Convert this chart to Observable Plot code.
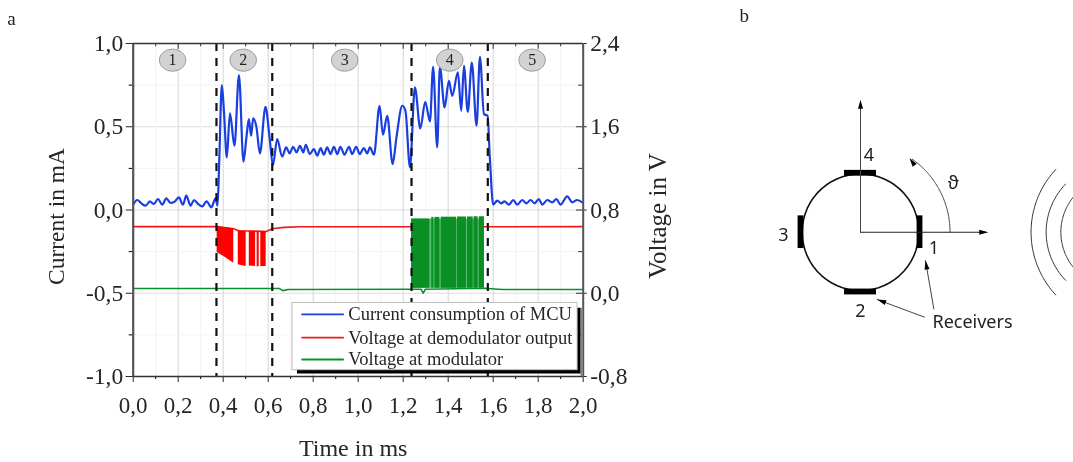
<!DOCTYPE html>
<html>
<head>
<meta charset="utf-8">
<script src="https://cdn.jsdelivr.net/npm/d3@7"></script>
<script src="https://cdn.jsdelivr.net/npm/@observablehq/plot@0.6"></script>
<style>
html,body{margin:0;padding:0;background:#fff;}
#fig{display:flex;width:1073px;height:462px;overflow:hidden;}
svg{display:block;filter:blur(0.35px);}
</style>
</head>
<body>
<div id="fig"></div>
<script>
// ---- Panel a data ----
const currentT = [0,.018,.036,.055,.074,.092,.110,.129,.147,.166,.184,.203,.221,.236,.255,.270,.289,.307,.326,.347,.366,.375,.382,.394,.404,.416,.430,.450,.470,.490,.504,.514,.524,.533,.548,.563,.588,.606,.621,.640,.662,.680,.695,.711,.726,.741,.756,.767,.785,.803,.818,.833,.847,.862,.877,.892,.907,.921,.939,.959,.973,.991,1.007,1.025,1.040,1.052,1.070,1.095,1.110,1.129,1.153,1.170,1.196,1.210,1.230,1.252,1.276,1.298,1.319,1.333,1.351,1.363,1.384,1.403,1.418,1.443,1.458,1.470,1.487,1.505,1.526,1.541,1.559,1.575,1.585,1.600,1.618,1.636,1.650,1.670,1.689,1.707,1.729,1.748,1.766,1.784,1.803,1.818,1.840,1.862,1.881,1.899,1.929,1.951,1.973,1.996];
const currentMA = [.032,.060,.040,.026,.052,.036,.066,.032,.070,.042,.050,.076,.032,.086,.026,.060,.036,.022,.052,.016,.070,.026,.276,.750,.576,.316,.580,.386,.810,.290,.446,.546,.446,.550,.496,.340,.620,.436,.270,.426,.320,.376,.340,.380,.346,.386,.346,.392,.336,.366,.326,.372,.332,.376,.336,.380,.336,.380,.332,.380,.336,.380,.336,.372,.340,.376,.332,.626,.452,.566,.276,.436,.626,.596,.256,.736,.490,.650,.532,.860,.376,.860,.616,.776,.686,.826,.596,.866,.590,.886,.506,.920,.576,.566,.316,.032,.056,.040,.052,.032,.060,.032,.060,.040,.060,.040,.066,.032,.060,.046,.066,.032,.082,.046,.060,.046];

const redLineT = [0,.373,.447,.467,.591,.618,.670,.743,2];
const redLineV = [.64,.64,.62,.60,.594,.62,.633,.639,.64];
const redBlock  = ["a","a","a","b","b","c","c","d","d","e","e"];
const redBlockT = [.373,.410,.447,.467,.502,.516,.544,.551,.560,.567,.591];
const redBlockTop = [.639,.630,.620,.600,.597,.597,.597,.597,.597,.597,.594];
const redBlockBottom = [.392,.343,.289,.273,.257,.263,.257,.253,.257,.257,.257];

const greenLineT = [0,.650,.665,.690,1.237,1.280,1.289,1.298,1.561,1.640,2];
const greenLineV = [.045,.045,.025,.036,.038,.038,.0,.038,.048,.036,.036];
const greenStart = [1.237,1.327,1.341,1.369,1.441,1.486,1.515,1.538];
const greenEnd   = [1.318,1.336,1.363,1.437,1.481,1.511,1.533,1.561];
const greenTop   = [.713,.729,.729,.731,.733,.733,.735,.735];
const greenBottom = .048;

const phaseBoundaries = [.370,.618,1.237,1.576];
const phaseT = [.175,.489,.94,1.407,1.773];
const phaseLabels = ["1","2","3","4","5"];
const phaseY = .90;

const xMajor = [0,.2,.4,.6,.8,1,1.2,1.4,1.6,1.8,2];
const xMinor = [.1,.3,.5,.7,.9,1.1,1.3,1.5,1.7,1.9];
const yMajor = [-1,-.5,0,.5,1];
const yMinor = [-.75,-.25,.25,.75];

const legendLabels = ["Current consumption of MCU","Voltage at demodulator output","Voltage at modulator"];
const legendColors = ["#1a3fe0","#f01818","#0a8f30"];
const legendY = [-.627,-.767,-.898];

// ---- Panel b schematic (unit = circle radius) ----
const receivers = [
  {x1:-.274,x2:.274,y1:.96,y2:1.06},
  {x1:-.274,x2:.274,y1:-1.075,y2:-.975},
  {x1:-1.07,x2:-.97,y1:-.28,y2:.28},
  {x1:.97,x2:1.07,y1:-.28,y2:.28}
];
const wavesCx = [4.50,4.37,4.39];
const wavesR = [1.576,1.187,.955];
const wavesHalf = [43,44,39];
const pointerFrom = [[1.257,-1.314],[1.097,-1.457]];
const pointerTo = [[1.114,-.486],[.286,-1.154]];
const schematicLabels = [
  {x:.145,y:1.32,t:"4"},{x:-1.32,y:-.05,t:"3"},{x:1.26,y:-.27,t:"1"},{x:0,y:-1.36,t:"2"},
  {x:1.59,y:.84,t:"ϑ"},{x:1.92,y:-1.55,t:"Receivers"}
];
const angleArcR = 1.535, angleArcEnd = 56.6;

// ---- helpers ----
const comma = v => d3.format(".1f")(v).replace(".", ",").replace("−", "-");
const toCurrent = v => (v - .8) / 1.6;
const toVolt = c => .8 + 1.6 * c;
const serif = "Liberation Serif";
const sans = "Noto Sans";
const zip = (xs, ys) => xs.map((x, i) => ({x, y: ys[i]}));
const arc = (cx, r, a0, a1) => d3.range(0, 61).map(i => {
  const a = (a0 + (a1 - a0) * i / 60) * Math.PI / 180;
  return {x: cx + r * Math.cos(a), y: r * Math.sin(a)};
});
const ellipse = {draw(c, size){
  const r = Math.sqrt(size / Math.PI), a = r * 1.2, b = r, k = .5523;
  c.moveTo(-a,0);
  c.bezierCurveTo(-a,-k*b,-k*a,-b,0,-b);
  c.bezierCurveTo(k*a,-b,a,-k*b,a,0);
  c.bezierCurveTo(a,k*b,k*a,b,0,b);
  c.bezierCurveTo(-k*a,b,-a,k*b,-a,0);
  c.closePath();
}};
const head = {draw(c){
  c.moveTo(0,0); c.lineTo(2.5,9); c.lineTo(-2.5,9); c.closePath();
}};

const redBlocks = redBlockT.map((t,i)=>({b:redBlock[i],t,top:toCurrent(redBlockTop[i]),bot:toCurrent(redBlockBottom[i])}));
const greenBlocks = greenStart.map((s,i)=>({s,e:greenEnd[i],top:toCurrent(greenTop[i]),bot:toCurrent(greenBottom)}));
const textColor = "#262626";

const plotA = Plot.plot({
  width: 740, height: 462,
  marginLeft: 132.7, marginRight: 157.3, marginTop: 43, marginBottom: 86,
  x: {domain: [0,2]},
  y: {domain: [-1,1]},
  style: {background:"#fff"},
  marks: [
    Plot.ruleX(xMajor, {stroke:"#dcdcdc", strokeWidth:1.2}),
    Plot.ruleY(yMajor, {stroke:"#dcdcdc", strokeWidth:1.2}),
    Plot.ruleX(xMinor, {stroke:"#f3f3f3"}),
    Plot.ruleY(yMinor, {stroke:"#f3f3f3"}),

    Plot.axisX({ticks:xMajor, tickFormat:comma, tickSize:6, tickPadding:14, fontSize:23, fontFamily:serif, color:textColor, label:null}),
    Plot.axisX({ticks:xMinor, tickFormat:()=>"", tickSize:3, label:null}),
    Plot.axisY({ticks:yMajor, tickFormat:comma, tickSize:7, tickPadding:3, fontSize:23.5, fontFamily:serif, color:textColor, label:null}),
    Plot.axisY({ticks:yMinor, tickFormat:()=>"", tickSize:4, label:null}),
    Plot.axisY({ticks:yMajor, anchor:"right", tickFormat:c=>comma(toVolt(c)), tickSize:3, tickPadding:4, fontSize:23.5, fontFamily:serif, color:textColor, label:null}),
    Plot.text(["Time in ms"], {frameAnchor:"bottom", dx:-5, dy:79, text:d=>d, fontFamily:serif, fontSize:24, fill:textColor}),
    Plot.text(["Current in mA"], {frameAnchor:"left", textAnchor:"middle", dx:-76.7, dy:6.5, rotate:-90, text:d=>d, fontFamily:serif, fontSize:23.5, fill:textColor}),
    Plot.text(["Voltage in V"], {frameAnchor:"right", textAnchor:"middle", dx:75, dy:6, rotate:-90, text:d=>d, fontFamily:serif, fontSize:25, fill:textColor}),
    Plot.ruleX(xMajor, {y1:1, y2:.965, stroke:"#333"}),
    Plot.ruleX(xMinor, {y1:1, y2:.98, stroke:"#333"}),
    Plot.ruleY(yMajor, {x1:2, x2:1.97, stroke:"#333"}),
    Plot.ruleY(yMinor, {x1:2, x2:1.98, stroke:"#333"}),

    Plot.line(zip(redLineT, redLineV), {x:"x", y:d=>toCurrent(d.y), stroke:legendColors[1], strokeWidth:1.6}),
    Plot.area(redBlocks, {x1:"t", y1:"top", y2:"bot", z:"b", fill:"#ff0000"}),
    Plot.line(zip(greenLineT, greenLineV), {x:"x", y:d=>toCurrent(d.y), stroke:legendColors[2], strokeWidth:1.6}),
    Plot.rect([{s:greenStart[0],e:greenEnd[7],top:greenBlocks[0].top,bot:greenBlocks[0].bot}], {x1:"s", x2:"e", y1:"top", y2:"bot", fill:"#5bb974"}),
    Plot.rect(greenBlocks, {x1:"s", x2:"e", y1:"top", y2:"bot", fill:"#0a8f22"}),

    Plot.line(zip(currentT, currentMA), {x:"x", y:"y", stroke:legendColors[0], strokeWidth:2.2, curve:"monotone-x"}),

    Plot.ruleX(phaseBoundaries, {stroke:"#111", strokeWidth:2.2, strokeDasharray:"8,7"}),

    Plot.ruleX([0], {stroke:"#555", strokeWidth:2.2}),
    Plot.ruleY([-1], {stroke:"#333", strokeWidth:1.6}),
    Plot.ruleY([1], {stroke:"#333", strokeWidth:1.6}),
    Plot.ruleX([2], {stroke:"#555", strokeWidth:2}),

    Plot.dot(phaseT, {x:d=>d, y:()=>phaseY, symbol:ellipse, r:11, fill:"#d2d2d2", stroke:"#9a9a9a", strokeWidth:1}),
    Plot.text(phaseLabels, {x:(d,i)=>phaseT[i], y:()=>phaseY, text:d=>d, fontFamily:serif, fontSize:16, fill:"#222"}),

    Plot.rect([0], {x1:1.99, x2:2, y1:-.59, y2:-1, fill:"#888"}),
    Plot.rect([0], {x1:.73, x2:1.99, y1:-.59, y2:-.985, fill:"#000"}),
    Plot.rect([0], {x1:.708, x2:1.975, y1:-.558, y2:-.962, fill:"#fff", stroke:"#bdbdbd", strokeWidth:1}),
    ...legendLabels.map((label,i)=>Plot.line([{x:.751,y:legendY[i]},{x:.933,y:legendY[i]}], {x:"x", y:"y", stroke:legendColors[i], strokeWidth:1.8})),
    Plot.text(legendLabels, {x:()=>.956, y:(d,i)=>legendY[i], text:d=>d, textAnchor:"start", fontFamily:serif, fontSize:18.5, fill:textColor}),

    Plot.text(["a"], {frameAnchor:"top-left", dx:-126, dy:-32, text:d=>d, fontFamily:serif, fontSize:19, fill:"#222"})
  ]
});

const pxPerUnit = 58.33;
const plotB = Plot.plot({
  width: 333, height: 462, margin: 0,
  x: {domain:[-120/pxPerUnit, 213/pxPerUnit], axis:null},
  y: {domain:[231.7/pxPerUnit, -230.3/pxPerUnit], range:[0,462], axis:null},
  style: {background:"#fff"},
  marks: [
    Plot.line(arc(0,1,0,360), {x:"x", y:"y", stroke:"#111", strokeWidth:1.6}),
    Plot.rect(receivers, {x1:"x1", x2:"x2", y1:"y1", y2:"y2", fill:"#000"}),
    Plot.line([{x:0,y:0},{x:0,y:2.22}], {x:"x", y:"y", stroke:"#444", strokeWidth:1}),
    Plot.line([{x:0,y:0},{x:2.15,y:0}], {x:"x", y:"y", stroke:"#222", strokeWidth:1.1}),
    Plot.dot([{x:0,y:2.27,r:0}], {x:"x", y:"y", symbol:head, rotate:"r", fill:"#000", r:3}),
    Plot.dot([{x:2.19,y:0,r:90}], {x:"x", y:"y", symbol:head, rotate:"r", fill:"#000", r:3}),
    Plot.line(arc(0,angleArcR,0,angleArcEnd-2), {x:"x", y:"y", stroke:"#444", strokeWidth:1}),
    Plot.dot([{x:.84,y:1.274,r:-35}], {x:"x", y:"y", symbol:head, rotate:"r", fill:"#000", r:3}),
    ...wavesCx.map((cx,i)=>Plot.line(arc(cx,wavesR[i],180-wavesHalf[i],180+wavesHalf[i]), {x:"x", y:"y", stroke:"#333", strokeWidth:1})),
    ...pointerFrom.map((p,i)=>Plot.line([{x:p[0],y:p[1]},{x:pointerTo[i][0],y:pointerTo[i][1]}], {x:"x", y:"y", stroke:"#444", strokeWidth:1})),
    Plot.dot([{x:1.114,y:-.486,r:-10}], {x:"x", y:"y", symbol:head, rotate:"r", fill:"#000", r:3}),
    Plot.dot([{x:.286,y:-1.154,r:-70}], {x:"x", y:"y", symbol:head, rotate:"r", fill:"#000", r:3}),
    Plot.text(schematicLabels, {x:"x", y:"y", text:"t", fontFamily:sans, fontSize:18, fill:"#222"}),
    Plot.text(["b"], {frameAnchor:"top-left", dx:-1, dy:8, text:d=>d, fontFamily:serif, fontSize:19, fill:"#222"})
  ]
});

const fig = document.getElementById("fig");
fig.append(plotA, plotB);
</script>
</body>
</html>
